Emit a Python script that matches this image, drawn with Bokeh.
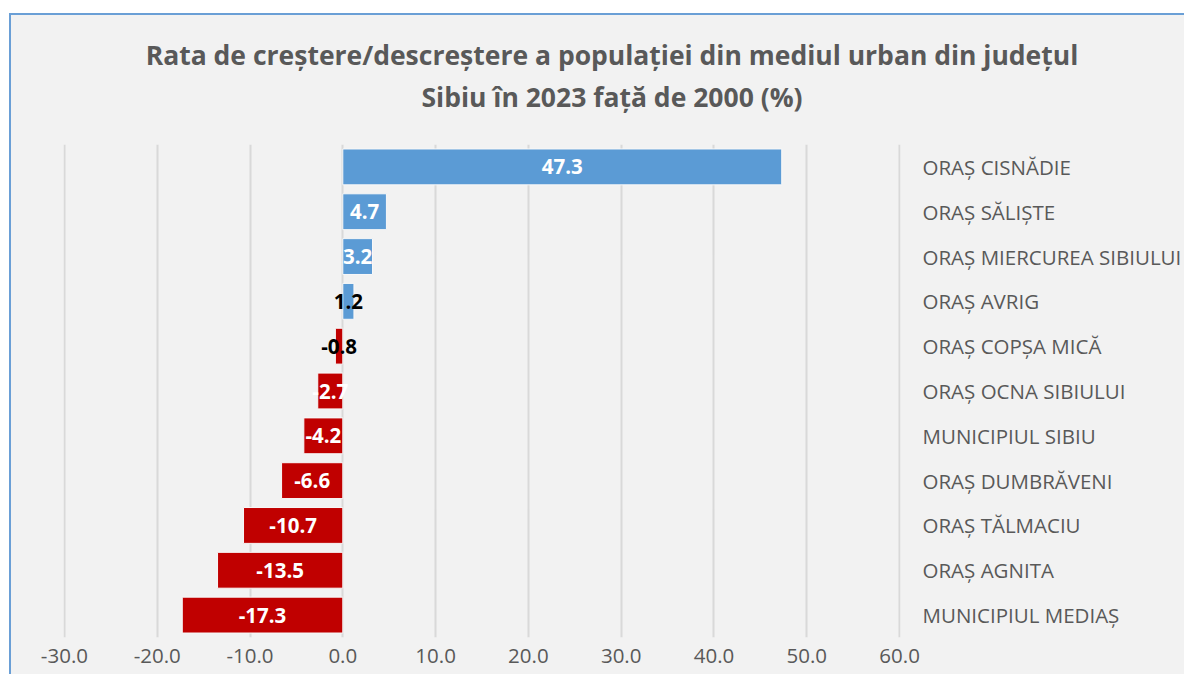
from bokeh.plotting import figure
from bokeh.layouts import column
from bokeh.models import ColumnDataSource, FactorRange, FixedTicker, CustomJSTickFormatter, LabelSet, Div
from bokeh.core.properties import value
from bokeh.embed import file_html
from bokeh.resources import INLINE

categories = ["ORAȘ CISNĂDIE", "ORAȘ SĂLIȘTE", "ORAȘ MIERCUREA SIBIULUI", "ORAȘ AVRIG",
              "ORAȘ COPȘA MICĂ", "ORAȘ OCNA SIBIULUI", "MUNICIPIUL SIBIU", "ORAȘ DUMBRĂVENI",
              "ORAȘ TĂLMACIU", "ORAȘ AGNITA", "MUNICIPIUL MEDIAȘ"]
values = [47.3, 4.7, 3.2, 1.2, -0.8, -2.7, -4.2, -6.6, -10.7, -13.5, -17.3]
x_ticks = [-30, -20, -10, 0, 10, 20, 30, 40, 50, 60]

title_line1 = "Rata de creștere/descreștere a populației din mediul urban din județul"
title_line2 = "Sibiu în 2023 față de 2000 (%)"

BLUE = "#5b9bd5"
RED = "#c00000"
GREY = "#595959"
FONT = "Open Sans"
EDGE = "#6a9fd6"

W, H, TITLE_H = 1184, 674, 120

colors = [BLUE if v >= 0 else RED for v in values]
label_colors = ["black" if abs(v) < 2 else "white" for v in values]
labels = ["{:.1f}".format(v) for v in values]

src = ColumnDataSource(dict(cat=categories, val=values, color=colors,
                            lcolor=label_colors, label=labels,
                            mid=[v / 2 for v in values]))

title = Div(text=(f'<div style="display:block; box-sizing:border-box; width:{W}px; height:{TITLE_H}px; '
                  f'overflow:hidden; padding:34px 0 0 40px; text-align:center; '
                  f'font-family:\'{FONT}\'; font-weight:bold; font-size:26.5px; line-height:42px; '
                  f'color:{GREY}; white-space:nowrap">{title_line1}<br>{title_line2}</div>'),
            width=W, height=TITLE_H, margin=0,
            styles={"font-size": "0px", "line-height": "0px", "overflow": "hidden"})

p = figure(width=W, height=H - TITLE_H, output_backend="svg", toolbar_location=None,
           title=None,
           y_range=FactorRange(factors=list(reversed(categories))),
           x_range=(-30.1, 60.1), y_axis_location="right",
           min_border_left=63, min_border_right=275, min_border_top=144 - TITLE_H,
           min_border_bottom=37)

p.border_fill_color = None
p.background_fill_color = "#f2f2f2"
p.outline_line_color = None

p.hbar(y="cat", left=0, right="val", height=0.8, source=src,
       fill_color="color", line_color="#f8f8f8", line_width=1)

lab = LabelSet(x="mid", y="cat", text="label", source=src, text_color="lcolor",
               text_align="center", text_baseline="middle", text_font=value(FONT),
               text_font_style="bold", text_font_size="20.5px")
p.add_layout(lab)

p.xgrid.grid_line_color = "#d9d9d9"
p.xgrid.grid_line_width = 2
p.ygrid.grid_line_color = None
p.xaxis.ticker = FixedTicker(ticks=x_ticks)
p.xaxis.formatter = CustomJSTickFormatter(code="return tick.toFixed(1);")
p.xaxis.axis_line_color = None
p.xaxis.major_tick_line_color = None
p.xaxis.minor_tick_line_color = None
p.xaxis.major_label_text_font = FONT
p.xaxis.major_label_text_font_size = "20.5px"
p.xaxis.major_label_text_color = GREY
p.xaxis.major_label_standoff = 5

p.yaxis.axis_line_color = None
p.yaxis.major_tick_line_color = None
p.yaxis.minor_tick_line_color = None
p.yaxis.major_label_text_font = FONT
p.yaxis.major_label_text_font_size = "20.5px"
p.yaxis.major_label_text_color = GREY
p.yaxis.major_label_standoff = 16

# chart-area fill with a blue left/top edge (drawn as the element's CSS background)
layout = column(title, p, width=W, height=H, spacing=0,
                styles={"background": (f"linear-gradient({EDGE},{EDGE}) 9px 13px / 2px 100% no-repeat, "
                                       f"linear-gradient({EDGE},{EDGE}) 9px 13px / 100% 2px no-repeat, "
                                       "linear-gradient(#f2f2f2,#f2f2f2) 11px 15px / 100% 100% no-repeat, "
                                       "white")})

open("out.html", "w").write(file_html(layout, INLINE))
